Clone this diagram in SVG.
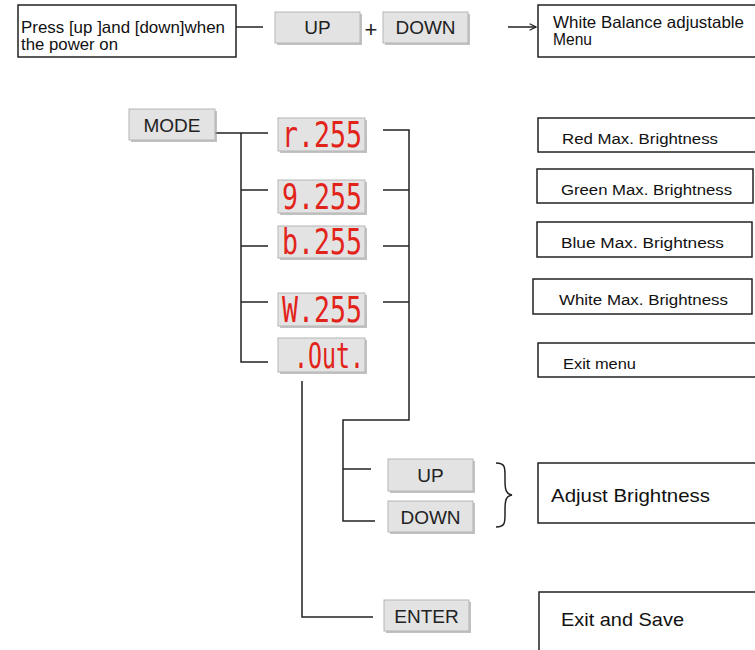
<svg xmlns="http://www.w3.org/2000/svg" width="755" height="650" viewBox="0 0 755 650">
<defs>
<style>
.box{fill:#fff;stroke:#222;stroke-width:1.5}
.btn{fill:#e3e3e3;stroke:#b5b5b5;stroke-width:1}
.sh{fill:#9a9a9a;opacity:0.6}
.bt{font-family:"Liberation Sans",Arial,sans-serif;font-size:19px;fill:#222;text-anchor:middle}
.t{font-family:"Liberation Sans",Arial,sans-serif;font-size:15.5px;fill:#111}
.tn{font-family:"Liberation Sans",Arial,sans-serif;font-size:16.5px;fill:#111}
.tl{font-family:"Liberation Sans",Arial,sans-serif;font-size:18.5px;fill:#111}
.seg{font-family:"DejaVu Sans Mono",monospace;font-size:36px;fill:#e2231a}
.ln{fill:none;stroke:#222;stroke-width:1.5}
</style>
<marker id="ah" viewBox="0 0 10 10" refX="9" refY="5" markerWidth="8" markerHeight="8" orient="auto" markerUnits="userSpaceOnUse">
<path d="M1,1 L9,5 L1,9" fill="none" stroke="#222" stroke-width="1.5"/>
</marker>
</defs>
<rect width="755" height="650" fill="#fff"/>

<g id="connectors">
<line class="ln" x1="236" y1="27" x2="263" y2="27"/>
<line class="ln" x1="508" y1="27" x2="536" y2="27" marker-end="url(#ah)"/>
<polyline class="ln" points="215,133 268,133"/>
<polyline class="ln" points="241,133 241,362 268,362"/>
<line class="ln" x1="241" y1="190" x2="268" y2="190"/>
<line class="ln" x1="241" y1="246" x2="268" y2="246"/>
<line class="ln" x1="241" y1="302" x2="268" y2="302"/>
<polyline class="ln" points="383,130 409,130 409,420 343,420 343,521 375,521"/>
<line class="ln" x1="383" y1="190" x2="409" y2="190"/>
<line class="ln" x1="383" y1="246" x2="409" y2="246"/>
<line class="ln" x1="383" y1="302" x2="409" y2="302"/>
<line class="ln" x1="343" y1="469" x2="371" y2="469"/>
<polyline class="ln" points="302,381 302,617 373,617"/>
<path class="ln" d="M496,463 C506,463 505,468 505,480 C505,490 506,494 512,495 C506,496 505,500 505,510 C505,522 506,527 496,527"/>
</g>

<g id="n-press">
<rect class="box" x="18" y="5" width="218" height="52"/>
<text class="tn" x="21" y="33" textLength="204" lengthAdjust="spacingAndGlyphs">Press [up ]and [down]when</text>
<text class="tn" x="21" y="50" textLength="97" lengthAdjust="spacingAndGlyphs">the power on</text>
</g>
<g id="n-up1">
<rect class="sh" x="277" y="14" width="85" height="31"/>
<rect class="btn" x="275" y="12" width="85" height="31"/>
<text class="bt" x="317.5" y="34">UP</text>
</g>
<text id="plus" class="bt" x="371" y="37" style="font-size:22px">+</text>
<g id="n-down1">
<rect class="sh" x="385" y="14" width="85" height="31"/>
<rect class="btn" x="383" y="12" width="85" height="31"/>
<text class="bt" x="425.5" y="34">DOWN</text>
</g>
<g id="n-wb">
<rect class="box" x="538" y="5" width="222" height="52"/>
<text class="tn" x="553" y="28" textLength="191" lengthAdjust="spacingAndGlyphs">White Balance adjustable</text>
<text class="tn" x="553" y="45" textLength="39" lengthAdjust="spacingAndGlyphs">Menu</text>
</g>

<g id="n-mode">
<rect class="sh" x="131" y="111" width="86" height="31"/>
<rect class="btn" x="129" y="109" width="86" height="31"/>
<text class="bt" x="172" y="132">MODE</text>
</g>

<g id="n-r255">
<rect class="sh" x="280" y="120" width="87" height="33"/>
<rect class="btn" x="278" y="118" width="87" height="33"/>
<text class="seg" x="282" y="147" textLength="80" lengthAdjust="spacingAndGlyphs">r.255</text>
</g>
<g id="n-g255">
<rect class="sh" x="280" y="182" width="87" height="33"/>
<rect class="btn" x="278" y="180" width="87" height="33"/>
<text class="seg" x="282" y="209" textLength="80" lengthAdjust="spacingAndGlyphs">9.255</text>
</g>
<g id="n-b255">
<rect class="sh" x="280" y="228" width="87" height="32"/>
<rect class="btn" x="278" y="226" width="87" height="32"/>
<text class="seg" x="282" y="254" textLength="80" lengthAdjust="spacingAndGlyphs">b.255</text>
</g>
<g id="n-w255">
<rect class="sh" x="280" y="295" width="87" height="33"/>
<rect class="btn" x="278" y="293" width="87" height="33"/>
<text class="seg" x="282" y="322" textLength="80" lengthAdjust="spacingAndGlyphs">W.255</text>
</g>
<g id="n-out">
<rect class="sh" x="280" y="340" width="87" height="34"/>
<rect class="btn" x="278" y="338" width="87" height="34"/>
<text class="seg" x="294" y="368" textLength="70" lengthAdjust="spacingAndGlyphs">.Out.</text>
</g>

<g id="n-red">
<rect class="box" x="538" y="118" width="222" height="34"/>
<text class="t" x="562" y="144" textLength="156" lengthAdjust="spacingAndGlyphs">Red Max. Brightness</text>
</g>
<g id="n-green">
<rect class="box" x="537" y="169" width="216" height="34"/>
<text class="t" x="561" y="195" textLength="171" lengthAdjust="spacingAndGlyphs">Green Max. Brightness</text>
</g>
<g id="n-blue">
<rect class="box" x="537" y="222" width="215" height="35"/>
<text class="t" x="561" y="248" textLength="163" lengthAdjust="spacingAndGlyphs">Blue  Max. Brightness</text>
</g>
<g id="n-white">
<rect class="box" x="533" y="279" width="219" height="35"/>
<text class="t" x="559" y="305" textLength="169" lengthAdjust="spacingAndGlyphs">White Max. Brightness</text>
</g>
<g id="n-exit">
<rect class="box" x="538" y="343" width="222" height="34"/>
<text class="t" x="563" y="369" textLength="73" lengthAdjust="spacingAndGlyphs">Exit menu</text>
</g>

<g id="n-up2">
<rect class="sh" x="390" y="461" width="85" height="32"/>
<rect class="btn" x="388" y="459" width="85" height="32"/>
<text class="bt" x="430.5" y="482">UP</text>
</g>
<g id="n-down2">
<rect class="sh" x="390" y="503" width="85" height="31"/>
<rect class="btn" x="388" y="501" width="85" height="31"/>
<text class="bt" x="430.5" y="524">DOWN</text>
</g>
<g id="n-adjust">
<rect class="box" x="538" y="463" width="222" height="60"/>
<text class="tl" x="551" y="502" textLength="159" lengthAdjust="spacingAndGlyphs">Adjust Brightness</text>
</g>

<g id="n-enter">
<rect class="sh" x="386" y="602" width="85" height="31"/>
<rect class="btn" x="384" y="600" width="85" height="31"/>
<text class="bt" x="426.5" y="623">ENTER</text>
</g>
<g id="n-save">
<rect class="box" x="539" y="592" width="222" height="70"/>
<text class="tl" x="561" y="626" textLength="123" lengthAdjust="spacingAndGlyphs">Exit and Save</text>
</g>
</svg>
